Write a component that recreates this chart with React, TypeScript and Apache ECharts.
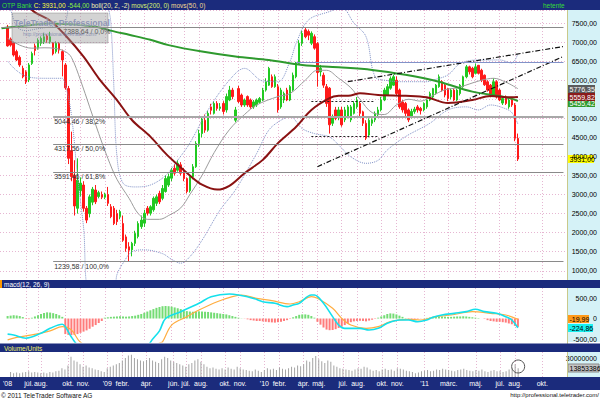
import React, { useEffect, useRef } from "react";
import * as echarts from "echarts";

const FONT = "Liberation Sans";
const NAVY = "#1b2b7c";
const CYAN = "#d5f2f7";
const LEAD = 2;
const N_CAT = 186;

// weekly OHLC [open, close, low, high], from the week ending 2008-05-23 to 2011-08-12
const candles: number[][] = [
  [7390, 6900, 6880, 7450], [7080, 6920, 6880, 7120], [6980, 6660, 6620, 7010], [6750, 6530, 6500, 6800],
  [6600, 6400, 6350, 6650], [6310, 6090, 6050, 6380], [6220, 5960, 5900, 6260], [6010, 6400, 5950, 6450],
  [6440, 6700, 6400, 6750], [6900, 6780, 6650, 6960], [6840, 7050, 6800, 7100], [6970, 7100, 6900, 7150],
  [7010, 7140, 6950, 7230], [7160, 7060, 6980, 7200], [7010, 7140, 6960, 7270], [6980, 6690, 6650, 7000],
  [6750, 6970, 6700, 7020], [6960, 6790, 6700, 7000], [6750, 6530, 6100, 6800], [6400, 5800, 5750, 6450],
  [5780, 3950, 3800, 5850], [4150, 3470, 3350, 4650], [3500, 2700, 2450, 3900], [2640, 3380, 2500, 3950],
  [3100, 3300, 2950, 3450], [3250, 2640, 2550, 3350], [2640, 2330, 2250, 2700], [2500, 2940, 2400, 3000],
  [2800, 3140, 2720, 3200], [3120, 2810, 2750, 3250], [2950, 3050, 2900, 3100], [3000, 2930, 2880, 3080],
  [2930, 3000, 2880, 3050], [3000, 2770, 2700, 3200], [2680, 2420, 2380, 2750], [2640, 2240, 2200, 2700],
  [2500, 2290, 2200, 2600], [2420, 2550, 2350, 2600], [2240, 1800, 1760, 2450], [1890, 1590, 1500, 1950],
  [1630, 1540, 1240, 1750], [1550, 1720, 1380, 1760], [1720, 1980, 1650, 2050], [1900, 2240, 1850, 2300],
  [2160, 2330, 2100, 2450], [2250, 2510, 2150, 2600], [2640, 2510, 2450, 2700], [2510, 2680, 2450, 2720],
  [2600, 2900, 2550, 2950], [2770, 2940, 2700, 3000], [3030, 2810, 2750, 3100], [2900, 3160, 2850, 3250],
  [3080, 3420, 3050, 3500], [3250, 3470, 3200, 3550], [3430, 3640, 3350, 3700], [3690, 3560, 3500, 3800],
  [3640, 3820, 3600, 3900], [3780, 3560, 3500, 3850], [3600, 3420, 3350, 3700], [3420, 3080, 3030, 3450],
  [3100, 3470, 3050, 3500], [3470, 3730, 3400, 3800], [3730, 4340, 3700, 4400], [4340, 4600, 4250, 4700],
  [4600, 4980, 4500, 5050], [4950, 4690, 4620, 5100], [4690, 5130, 4650, 5200], [5300, 5210, 5100, 5380],
  [5130, 5390, 5100, 5450], [5390, 5260, 5200, 5450], [5260, 5300, 5200, 5400], [5390, 5180, 5100, 5450],
  [5220, 5570, 5150, 5650], [5480, 5740, 5450, 5850], [5740, 5570, 5500, 5800], [4950, 5220, 4900, 5300],
  [5780, 5440, 5400, 5850], [5610, 5350, 5300, 5650], [5350, 5480, 5300, 5520], [5570, 5350, 5300, 5600],
  [5480, 5300, 5250, 5520], [5300, 5430, 5250, 5480], [5350, 5480, 5300, 5520], [5420, 5520, 5380, 5560],
  [5480, 5740, 5450, 5800], [5740, 5960, 5700, 6050], [5870, 6310, 5850, 6350], [6090, 5830, 5800, 6150],
  [5830, 6090, 5800, 6150], [5830, 5220, 5150, 5900], [5300, 5740, 5250, 5800], [5480, 5650, 5400, 5700],
  [5740, 5480, 5450, 5800], [5480, 5830, 5450, 5870], [5740, 6130, 5700, 6200], [6090, 6440, 6050, 6480],
  [6440, 6970, 6400, 7050], [6970, 7230, 6900, 7300], [7320, 7140, 7100, 7389], [7280, 7180, 7050, 7330],
  [6970, 7230, 6920, 7280], [7140, 6840, 6800, 7200], [6960, 6200, 5830, 7000], [6220, 6310, 6100, 6400],
  [6130, 5870, 5800, 6200], [5830, 5390, 5300, 5900], [5790, 4830, 4600, 5820], [4870, 5040, 4800, 5100],
  [5220, 5000, 4950, 5300], [5040, 5220, 4950, 5300], [5220, 4830, 4780, 5300], [4960, 5220, 4900, 5300],
  [5040, 5300, 5000, 5350], [4960, 5300, 4900, 5350], [5130, 5390, 5100, 5450], [5300, 5480, 5250, 5560],
  [5390, 5130, 5050, 5430], [5170, 4870, 4800, 5200], [4870, 4480, 4430, 4950], [4560, 4950, 4500, 5000],
  [4870, 4960, 4800, 5000], [4960, 5130, 4900, 5180], [5090, 5220, 5050, 5300], [5220, 5480, 5180, 5560],
  [5480, 5740, 5450, 5800], [5610, 5830, 5600, 5900], [5790, 6040, 5750, 6100], [5870, 6090, 5850, 6150],
  [6000, 5650, 5600, 6100], [5740, 5300, 5250, 5780], [5430, 5220, 5150, 5480], [5390, 5130, 5050, 5430],
  [5220, 4960, 4900, 5260], [5040, 5180, 5000, 5250], [5180, 5240, 5120, 5300], [5300, 5220, 5150, 5350],
  [5260, 5200, 5100, 5300], [5220, 5390, 5180, 5420], [5300, 5480, 5250, 5520], [5480, 5650, 5450, 5700],
  [5560, 5780, 5500, 5800], [5650, 5870, 5620, 5900], [5830, 6090, 5800, 6150], [5960, 5740, 5700, 6000],
  [5870, 5610, 5550, 5900], [5780, 5520, 5450, 5800], [5560, 5740, 5500, 5780], [5740, 5480, 5450, 5780],
  [5480, 5740, 5450, 5780], [5650, 5870, 5600, 5900], [5830, 6090, 5800, 6120], [6090, 6350, 6050, 6400],
  [6350, 6220, 6150, 6380], [6310, 6090, 6050, 6350], [6180, 6350, 6150, 6440], [6390, 6180, 6150, 6400],
  [6260, 6000, 5950, 6300], [6130, 5880, 5850, 6150], [5960, 5740, 5700, 6000], [5870, 5610, 5550, 5900],
  [5610, 5960, 5580, 6050], [5960, 5560, 5520, 6000], [5740, 5480, 5450, 5780], [5400, 5520, 5350, 5560],
  [5560, 5390, 5350, 5600], [5300, 5480, 5250, 5520], [5480, 5350, 5300, 5560], [5350, 4475, 4400, 5400],
  [4475, 3931, 3880, 4600],
];

// weekly volume, millions of shares
const volumeM: number[] = [
  8, 6, 7, 6, 7, 8, 9, 7, 8, 7, 6, 7, 6, 8, 7, 9, 10, 14, 12, 18,
  32, 26, 24, 20, 16, 18, 15, 14, 12, 11, 9, 8, 14, 16, 18, 20, 22, 26, 30, 34,
  35, 30, 28, 26, 25, 27, 30, 26, 24, 22, 28, 32, 30, 26, 24, 22, 20, 18, 16, 20,
  22, 26, 28, 24, 20, 16, 14, 15, 13, 12, 14, 12, 15, 13, 12, 16, 14, 12, 11, 10,
  9, 12, 10, 8, 11, 14, 12, 13, 11, 15, 13, 12, 14, 16, 15, 18, 17, 20, 26, 24,
  30, 33, 28, 25, 22, 26, 24, 18, 16, 14, 13, 12, 11, 10, 12, 14, 13, 16, 15, 12,
  10, 11, 9, 12, 13, 11, 12, 10, 14, 13, 12, 10, 9, 8, 6, 7, 9, 10, 11, 9,
  10, 12, 11, 13, 12, 11, 10, 9, 11, 12, 13, 11, 10, 9, 11, 10, 12, 9, 8, 10,
  11, 9, 10, 8, 9, 12, 14, 20, 13.853386,
];

// MACD histogram, weekly
const macdHist: number[] = [
  60, 70, 80, 75, 60, 35, -10, -15,
  20, 50, 80, 110, 135, 150, 145, 130, 110, 80, 40,
  -380, -400, -405, -400, -380, -350, -320, -290, -250, -200, -160, -110, -60,
  20, 30, 40, 45, 50, 55, 50, 45, 50, 60, 70, 90,
  110, 140, 170, 200, 230, 260, 280, 300, 305, 300, 290, 270, 250, 230, 200, 180,
  170, 165, 170, 175, 170, 165, 160, 150, 140, 130, 120, 110, 100, 80, 60, 40, 20,
  5, -5,
  -20, -40, -50, -60, -60, -70, -80, -90, -95, -100, -90, -80, -60, -40, -10,
  30, 60, 90, 100, 100, 90, 60, 20,
  -80, -150, -220, -270, -285, -280, -260, -230, -200, -160, -120,
  -90, -70, -60, -55, -60, -70, -50, -30, -10,
  20, 50, 80, 110, 125, 120, 100,
  70, 40, 10, -10, -20, -15, -10, -5, 5,
  15, 25, 35, 45, 50, 50, 45, 40, 40, 45, 50, 50, 55, 50, 40,
  30, 20, 10, 0, -10,
  -40, -60, -70, -80, -80, -90, -100,
  -120, -140, -180, -205,
];

// indicator lines: [category index, value]
const macdLine: number[][] = [
  [2, -380], [4, -400], [8, -480], [13, -360], [16, -240], [20, -140], [21, -200], [23, -450], [25, -650],
  [30, -1000], [40, -1100], [48, -800], [49, -580], [52, -300], [54, 0], [59, 167], [65, 370], [69, 533],
  [75, 598], [78, 573], [83, 490], [86, 410], [90, 370], [94, 290], [96, 330], [98, 370], [102, 573],
  [103, 573], [106, 370], [109, 45], [111, -160], [113, -240], [118, -240], [121, -280], [124, -240],
  [127, -118], [131, -37], [134, -37], [137, -78], [140, -37], [142, 28], [145, 85], [149, 126],
  [153, 167], [156, 224], [159, 167], [163, 126], [166, 45], [168, -37], [170, -224.86],
];
const signalLine: number[][] = [
  [2, -520], [5, -460], [10, -400], [16, -300], [20, -200], [23, -280], [26, -580], [32, -800],
  [45, -900], [52, -600], [53, -570], [56, -160], [61, 45], [65, 207], [71, 410], [76, 533], [79, 573],
  [84, 492], [89, 435], [95, 354], [98, 410], [102, 533], [104, 492], [109, 248], [112, 4], [115, -160],
  [120, -240], [124, -199], [128, -78], [134, -20], [138, -37], [143, 45], [148, 85], [155, 167],
  [161, 126], [166, 85], [170, -19.99],
];
const ma200: number[][] = [
  [0, 7360], [10, 7450], [16, 7490], [26, 7450], [32, 7390], [36, 7300], [42, 7190], [49, 7060],
  [55, 6920], [66, 6750], [77, 6620], [88, 6530], [99, 6400], [111, 6340], [122, 6270], [133, 6140],
  [144, 5960], [155, 5700], [166, 5550], [170, 5455.42],
];
const ma50: number[][] = [
  [8, 8150], [10, 7840], [16, 7560], [21, 7180], [27, 6620], [32, 6050], [38, 5480], [43, 4950],
  [49, 4520], [54, 4080], [58, 3780], [62, 3500], [66, 3260], [71, 3130], [75, 3230], [80, 3560],
  [86, 3910], [91, 4350], [97, 4780], [102, 5220], [108, 5530], [111, 5590], [115, 5600], [118, 5660],
  [124, 5610], [133, 5590], [140, 5550], [147, 5400], [155, 5480], [161, 5585], [168, 5550], [170, 5559.82],
];
const bollMid: number[][] = [
  [2, 7100], [6, 6920], [10, 6840], [14, 6850], [18, 6830], [21, 6750], [23, 6600], [26, 6000],
  [29, 5300], [32, 4600], [35, 3950], [38, 3400], [42, 2900], [45, 2500], [48, 2350], [52, 2350],
  [55, 2450], [59, 2650], [62, 3000], [66, 3500], [70, 4100], [75, 4700], [80, 5100], [84, 5350],
  [91, 5570], [95, 5650], [100, 6000], [104, 6260], [107, 6260], [111, 6050], [115, 5800], [118, 5500],
  [122, 5150], [126, 5100], [130, 5350], [134, 5500], [138, 5450], [142, 5600], [146, 5750], [150, 5800],
  [154, 5900], [158, 6000], [162, 6050], [166, 5950], [170, 5776.35],
];
const bollUpper: number[][] = [
  [0, 8300], [3, 7840], [5, 7400], [8, 7300], [12, 7350], [16, 7400], [19, 7450], [21, 7550], [22, 7900],
  [24, 8600], [34, 8600], [35, 8000], [36, 7500], [37, 5800], [38, 4000], [40, 3300], [44, 3200],
  [49, 3250], [54, 3500], [58, 3900], [62, 4350], [68, 5220], [75, 6000], [80, 6310], [86, 5980],
  [91, 5960], [95, 6500], [97, 6970], [101, 7575], [108, 7800], [112, 7900], [116, 7500], [120, 7140],
  [123, 6090], [127, 5990], [132, 5960], [140, 5960], [142, 6000], [147, 6140], [151, 6440], [157, 6530],
  [164, 6530], [168, 6450], [170, 6700],
];
const bollLower: number[][] = [
  [2, 6500], [5, 6250], [9, 6080], [15, 6050], [20, 6050], [21, 5900], [23, 5100], [25, 3500], [27, 2150],
  [29, 500], [37, 500], [38, 900], [40, 1200], [43, 1500], [47, 1550], [53, 1450], [56, 1300], [59, 1200],
  [62, 1370], [66, 1800], [72, 2600], [77, 3120], [84, 4080], [88, 4690], [92, 4950], [95, 5040],
  [99, 4730], [103, 4600], [108, 4510], [111, 4300], [115, 3990], [120, 3820], [124, 3900], [127, 4170],
  [133, 4520], [141, 4870], [147, 5220], [153, 5300], [157, 5220], [161, 5350], [166, 5250], [168, 5150],
  [170, 4850],
];

const fibLevels: [number, string][] = [
  [7388.64, "7388,64 / 0,0%"], [5044.46, "5044,46 / 38,2%"], [4317.56, "4317,56 / 50,0%"],
  [3591.46, "3591,46 / 61,8%"], [1239.58, "1239,58 / 100,0%"],
];
const trendLines: number[][][] = [[[114, 5961], [185, 6884]], [[104, 3731], [185, 6624]]];
const boxLines: number[][][] = [[[102, 5436], [123, 5436]], [[102, 4536], [124, 4536]]];
const resistanceLine: number[][] = [[97, 6459], [185, 6459]];

const monthTicks: [number, string][] = [
  [1, "'08"], [8, "júl."], [12, "aug."], [21, "okt."], [26, "nov."], [34, "'09"], [39, "febr."],
  [47, "ápr."], [56, "jún."], [60, "júl."], [65, "aug."], [73, "okt."], [78, "nov."], [86, "'10"],
  [91, "febr."], [99, "ápr."], [104, "máj."], [112, "júl."], [117, "aug."], [125, "okt."], [130, "nov."],
  [139, "'11"], [147, "márc."], [156, "máj."], [164, "júl."], [169, "aug."], [178, "okt."],
];

// price-axis tick hidden under the last-value boxes in the reference
const coveredPriceTicks: number[] = [5500];

const last = { close: 3931.0, bollMid: 5776.35, ma50: 5559.82, ma200: 5455.42, macd: -224.86, signal: -19.99, volume: 13853386 };

const fmt2 = (v: number) => v.toFixed(2).replace(".", ",");

export default function App() {
  const ref = useRef<HTMLDivElement>(null);
  useEffect(() => {
    if (!ref.current) return;
    const chart = echarts.init(ref.current, undefined, { renderer: "svg" });
    const START = Date.UTC(2008, 4, 9);
    const categories = Array.from({ length: N_CAT }, (_, i) =>
      new Date(START + i * 7 * 86400000).toISOString().slice(0, 10)
    );
    const tickMap = new Map<number, string>(monthTicks);
    const gridLine = { color: "#e6b6d2", type: [1, 2] as number[], width: 1 };

    const xAxis = (gridIndex: number, labels: boolean) => ({
      type: "category",
      gridIndex,
      data: categories,
      boundaryGap: true,
      axisLine: { show: false },
      axisTick: { show: false },
      axisLabel: labels
        ? {
            show: true,
            interval: (i: number) => tickMap.has(i),
            formatter: (_v: string, i: number) => tickMap.get(i) ?? "",
            color: "#ffffff",
            fontSize: 7,
            fontFamily: FONT,
            margin: 3,
          }
        : { show: false },
      splitLine: { show: true, alignWithLabel: true, interval: (i: number) => tickMap.has(i) && i > 1, lineStyle: gridLine },
    });

    const lineS = (data: number[][], color: string, width: number, type: any = "solid", z = 3) => ({
      type: "line",
      xAxisIndex: 0,
      yAxisIndex: 0,
      data,
      smooth: 0.35,
      showSymbol: false,
      symbol: "none",
      silent: true,
      z,
      lineStyle: { color, width, type },
    });

    const fibMarks: any[] = [];
    fibLevels.forEach(([v, label], i) => {
      const start = i === 0 ? 20 : 17;
      const ls = i === 1 ? { color: "#a8a8a8", width: 2, type: "solid" } : { color: "#8a8a8a", width: 1, type: "solid" };
      fibMarks.push([
        {
          coord: [start, v],
          lineStyle: ls,
          label: { show: true, position: "insideStartBottom", formatter: label, fontSize: 7, color: "#333", fontFamily: FONT, distance: [1, 1] },
        },
        { coord: [185, v] },
      ]);
      if (i === 0) fibMarks.push([{ coord: [0, v], lineStyle: ls }, { coord: [20, v] }]);
    });
    trendLines.forEach((seg) =>
      fibMarks.push([{ coord: seg[0], lineStyle: { color: "#111", width: 1.2, type: [5, 2, 1, 2] } }, { coord: seg[1] }])
    );
    boxLines.forEach((seg) =>
      fibMarks.push([{ coord: seg[0], lineStyle: { color: "#222", width: 1.2, type: [2, 2] } }, { coord: seg[1] }])
    );
    fibMarks.push([{ coord: resistanceLine[0], lineStyle: { color: "#8293c9", width: 1, type: "solid" } }, { coord: resistanceLine[1] }]);

    const yLabel = (formatter: (v: number) => string, extra: any = {}) => ({
      fontSize: 7, color: "#000", margin: 32, align: "right", fontFamily: FONT,
      showMinLabel: false, showMaxLabel: false, formatter, ...extra,
    });

    chart.setOption({
      animation: false,
      backgroundColor: "#ffffff",
      textStyle: { fontFamily: FONT },
      grid: [
        { left: 0, top: 10, width: 567, height: 270, show: true, backgroundColor: "#ffffff", borderWidth: 0 },
        { left: 0, top: 288, width: 567, height: 54, show: true, backgroundColor: "#ffffff", borderWidth: 0 },
        { left: 0, top: 352, width: 567, height: 25, show: true, backgroundColor: "#ffffff", borderWidth: 0 },
      ],
      xAxis: [xAxis(0, false), xAxis(1, false), xAxis(2, true)],
      yAxis: [
        {
          type: "value", gridIndex: 0, position: "right", min: 759, max: 7841, splitNumber: 14,
          axisLine: { show: false }, axisTick: { show: false },
          axisLabel: yLabel((v: number) => (coveredPriceTicks.includes(v) ? "" : fmt2(v))),
          splitLine: { show: true, lineStyle: gridLine },
        },
        {
          type: "value", gridIndex: 1, position: "right", min: -573, max: 744, splitNumber: 3,
          axisLine: { show: false }, axisTick: { show: false },
          axisLabel: yLabel((v: number) => (v === 0 ? "0" : fmt2(v))),
          splitLine: { show: false },
        },
        {
          type: "value", gridIndex: 2, position: "right", min: 0, max: 39500000, interval: 10000000,
          axisLine: { show: false }, axisTick: { show: false },
          axisLabel: yLabel((v: number) => (v === 30000000 ? "30000000" : "")),
          splitLine: { show: false },
        },
      ],
      series: [
        {
          type: "candlestick",
          xAxisIndex: 0,
          yAxisIndex: 0,
          data: candles.map((c, k) => [k + LEAD, c[0], c[1], c[2], c[3]]),
          encode: { x: 0, y: [1, 2, 3, 4] },
          barWidth: 2,
          silent: true,
          z: 2,
          itemStyle: { color: "#22c922", color0: "#ff1a1a", borderColor: "#22c922", borderColor0: "#ff1a1a", borderWidth: 1 },
          markLine: { symbol: ["none", "none"], silent: true, label: { show: false }, data: fibMarks },
        },
        lineS(bollUpper, "#7f90c6", 1, "dotted"),
        lineS(bollLower, "#7f90c6", 1, "dotted"),
        lineS(bollMid, "#9c9c9c", 1),
        lineS(ma200, "#2e9a2e", 2),
        lineS(ma50, "#8a1212", 2),
        {
          type: "bar",
          xAxisIndex: 1,
          yAxisIndex: 1,
          data: macdHist.map((v, k) => [k + LEAD, v]),
          barWidth: 2,
          silent: true,
          itemStyle: { color: (p: any) => (p.value[1] >= 0 ? "#74dc74" : "#ff7b7b") },
        },
        {
          type: "line", xAxisIndex: 1, yAxisIndex: 1, data: signalLine, smooth: 0.35, showSymbol: false, symbol: "none", silent: true,
          lineStyle: { color: "#ffad40", width: 1.2 },
        },
        {
          type: "line", xAxisIndex: 1, yAxisIndex: 1, data: macdLine, smooth: 0.35, showSymbol: false, symbol: "none", silent: true,
          lineStyle: { color: "#14e0ec", width: 1.6 },
        },
        {
          type: "bar",
          xAxisIndex: 2,
          yAxisIndex: 2,
          data: volumeM.map((v, k) => [k + LEAD, v * 1000000]),
          barWidth: 1,
          silent: true,
          itemStyle: { color: "#a4a4a4" },
          markPoint: {
            silent: true,
            symbol: "circle",
            symbolSize: 13,
            label: { show: false },
            itemStyle: { color: "rgba(0,0,0,0)", borderColor: "#555", borderWidth: 1 },
            data: [{ coord: [volumeM.length - 1 + LEAD, 16600000] }],
          },
        },
      ],
    });

    const py = (axis: number, v: number) => chart.convertToPixel({ yAxisIndex: axis } as any, v) as number;
    const box = (id: string, yc: number, w: number, bg: string, fg: string, txt: string, stroke?: string) => ({
      type: "group",
      id,
      z: 40,
      children: [
        { type: "rect", shape: { x: 568, y: Math.round(yc) - 4, width: w, height: 8 }, style: { fill: bg, stroke: stroke ?? null, lineWidth: 1 } },
        { type: "text", x: 569.5, y: Math.round(yc), style: { text: txt, fill: fg, fontSize: 7, fontFamily: FONT, verticalAlign: "middle" } },
      ],
    });
    const txt = (id: string, x: number, y: number, text: string, fill: string, size = 7, extra: any = {}) => ({
      type: "text", id, x, y, z: 30,
      style: { text, fill, fontSize: size, fontFamily: FONT, verticalAlign: "middle", ...extra },
    });

    chart.setOption({
      graphic: [
        { type: "rect", id: "rp0", z: -1, shape: { x: 567, y: 10, width: 33, height: 270 }, style: { fill: CYAN } },
        { type: "rect", id: "rp1", z: -1, shape: { x: 567, y: 288, width: 33, height: 54 }, style: { fill: CYAN } },
        { type: "rect", id: "rp2", z: -1, shape: { x: 567, y: 352, width: 33, height: 25 }, style: { fill: CYAN } },
        { type: "line", id: "rpb", z: 5, shape: { x1: 567.5, y1: 10, x2: 567.5, y2: 377 }, style: { stroke: "#c9c98a", lineWidth: 1 } },
        { type: "rect", id: "hb0", z: 20, shape: { x: 0, y: 0, width: 600, height: 10 }, style: { fill: NAVY } },
        { type: "rect", id: "hb1", z: 20, shape: { x: 0, y: 280, width: 600, height: 8 }, style: { fill: NAVY } },
        { type: "rect", id: "hb2", z: 20, shape: { x: 0, y: 343.5, width: 600, height: 8.5 }, style: { fill: NAVY } },
        { type: "rect", id: "hb3", z: -1, shape: { x: 0, y: 377, width: 600, height: 13 }, style: { fill: NAVY } },
        { type: "rect", id: "ob", z: 21, shape: { x: 0, y: 280, width: 2, height: 8 }, style: { fill: "#ff9900" } },
        {
          type: "text", id: "title", x: 2, y: 5, z: 30,
          style: {
            text: "{g|OTP Bank} {y|C: 3931,00} {n|-544,00} {w|boll(20, 2, -2)} {m|movs(200, 0)} {k|movs(50, 0)}",
            fontSize: 6.5, fontFamily: FONT, verticalAlign: "middle",
            rich: {
              g: { fill: "#36dd36", fontSize: 6.5, fontFamily: FONT },
              y: { fill: "#ffff40", fontSize: 6.5, fontFamily: FONT },
              n: { fill: "#8cf040", fontSize: 6.5, fontFamily: FONT },
              w: { fill: "#f2f2b0", fontSize: 6.5, fontFamily: FONT },
              m: { fill: "#d8f070", fontSize: 6.5, fontFamily: FONT },
              k: { fill: "#f4d890", fontSize: 6.5, fontFamily: FONT },
            },
          },
        },
        txt("het", 543, 5, "hetente", "#36dd36", 6.5),
        txt("mh", 4, 284, "macd(12, 26, 9)", "#ffffff", 6.5),
        txt("vh", 4, 348, "Volume/Units", "#f2f266", 6.5),
        txt("copy", 1, 395, "© 2011 TeleTrader Software AG", "#111", 6.5),
        txt("url", 599, 395, "http://professional.teletrader.com/", "#111", 6, { align: "right" }),
        {
          type: "rect", id: "wm", z: 35, shape: { x: 12, y: 13, width: 96, height: 30 },
          style: { fill: "rgba(150,150,150,0.42)", stroke: "rgba(120,120,120,0.4)", lineWidth: 1 },
        },
        txt("wm1", 14, 23, "TeleTrader Professional", "rgba(95,115,190,0.75)", 8.5, { fontWeight: "bold", stroke: "rgba(255,255,255,0.6)", lineWidth: 1 }),
        txt("wm2", 23, 34, "http://professional.teletrader.com/", "rgba(80,100,175,0.75)", 5),
        box("b_ma200", py(0, last.ma200) + 2, 27, "#2e9a2e", "#ffffff", fmt2(last.ma200)),
        box("b_ma50", py(0, last.ma50), 27, "#8a1a1a", "#ffffff", fmt2(last.ma50)),
        box("b_mid", py(0, last.bollMid), 27, "#5a5a5a", "#ffffff", fmt2(last.bollMid)),
        box("b_close", py(0, last.close), 26, "#ffff00", "#000000", fmt2(last.close)),
        box("b_sig", py(1, last.signal), 21, "#ff9a1a", "#000000", fmt2(last.signal)),
        box("b_macd", py(1, last.macd), 25, "#18f0f0", "#000000", fmt2(last.macd)),
        box("b_vol", py(2, last.volume), 31, "#c4c4c4", "#000000", String(last.volume), "#888"),
      ],
    });

    return () => chart.dispose();
  }, []);
  return <div ref={ref} style={{ position: "fixed", left: 0, top: 0, width: 600, height: 400 }} />;
}
